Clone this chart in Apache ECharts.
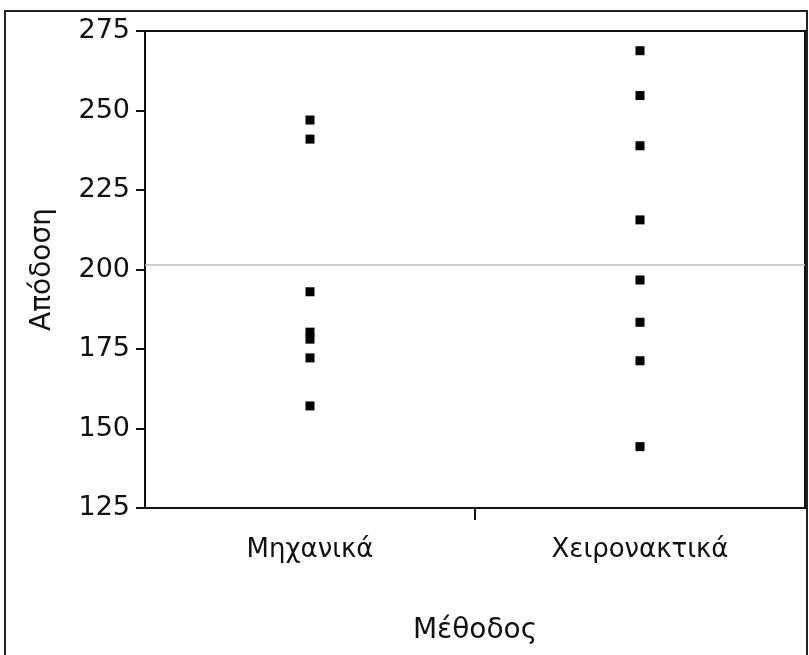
<!DOCTYPE html>
<html>
<head>
<meta charset="utf-8">
<script src="https://cdn.jsdelivr.net/npm/echarts@6/dist/echarts.min.js"></script>
<style>html,body{margin:0;padding:0;background:#fff}#c{width:809px;height:655px}</style>
</head>
<body>
<div id="c"></div>
<script>
const categories = ['Μηχανικά', 'Χειρονακτικά'];
const mechanical = [247, 241, 193, 180.3, 178.1, 172.2, 157.1];
const manual = [268.8, 254.7, 238.9, 215.6, 196.7, 183.4, 171.3, 144.3];
const meanLine = 201.5;
const yTicks = [125, 150, 175, 200, 225, 250, 275];
const xName = 'Μέθοδος';
const yName = 'Απόδοση';
const boundaryTicks = [1];

const points = [];
mechanical.forEach(v => points.push([categories[0], v]));
manual.forEach(v => points.push([categories[1], v]));

const font = 'DejaVu Sans';
const chart = echarts.init(document.getElementById('c'));
chart.setOption({
  animation: false,
  backgroundColor: '#fff',
  graphic: [{
    type: 'rect', z: 100,
    shape: { x: 5, y: 11, width: 802, height: 700 },
    style: { fill: 'none', stroke: '#222', lineWidth: 2 }
  }],
  grid: {
    left: 145, right: 4, top: 31, bottom: 147,
    show: true, borderColor: '#111', borderWidth: 2, backgroundColor: '#fff'
  },
  xAxis: [{
    type: 'category',
    data: categories,
    boundaryGap: true,
    name: xName,
    nameLocation: 'middle',
    nameGap: 109,
    nameTextStyle: { fontSize: 28, color: '#111', fontFamily: font },
    axisLine: { lineStyle: { color: '#111', width: 2 } },
    axisTick: { show: false },
    axisLabel: { fontSize: 26, color: '#111', margin: 29, fontFamily: font, interval: 0 },
    splitLine: { show: false }
  }, {
    type: 'value',
    position: 'bottom',
    min: 0, max: categories.length,
    axisLine: { show: false },
    axisLabel: { show: false },
    splitLine: { show: false },
    axisTick: { show: true, length: 12, customValues: boundaryTicks, lineStyle: { color: '#111', width: 2 } }
  }],
  yAxis: {
    type: 'value',
    min: yTicks[0], max: yTicks[yTicks.length - 1], interval: 25,
    name: yName,
    nameLocation: 'middle',
    nameGap: 88,
    nameTextStyle: { fontSize: 28, color: '#111', fontFamily: font },
    axisLine: { show: true, lineStyle: { color: '#111', width: 2 } },
    axisTick: { show: true, length: 9, lineStyle: { color: '#111', width: 2 } },
    axisLabel: { fontSize: 27, color: '#111', margin: 15, fontFamily: font },
    splitLine: { show: false }
  },
  series: [{
    type: 'scatter',
    xAxisIndex: 0,
    symbol: 'rect',
    symbolSize: 9,
    itemStyle: { color: '#000', opacity: 1 },
    emphasis: { disabled: true },
    data: points,
    markLine: {
      silent: true,
      symbol: 'none',
      label: { show: false },
      lineStyle: { color: '#bdbdbd', type: 'solid', width: 1.5, opacity: 1 },
      data: [{ yAxis: meanLine }]
    }
  }]
});
</script>
</body>
</html>
